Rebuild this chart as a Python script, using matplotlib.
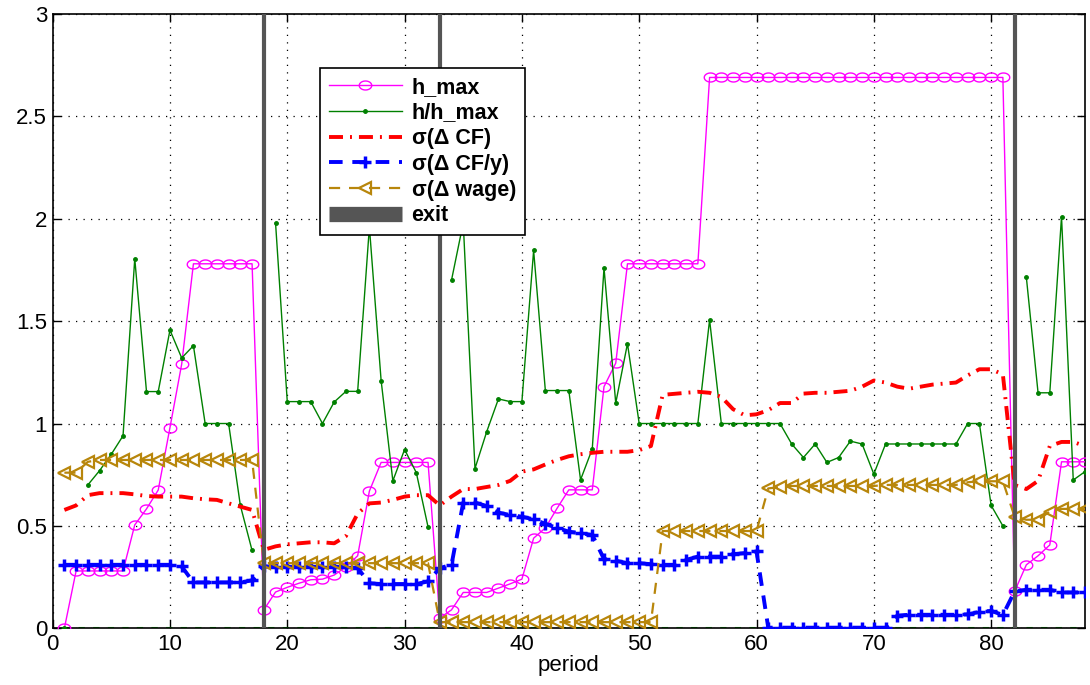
import numpy as np
import matplotlib
matplotlib.use("Agg")
import matplotlib.pyplot as plt
from matplotlib.lines import Line2D
from matplotlib.path import Path
from matplotlib.ticker import FormatStrFormatter

plt.rcParams['font.family'] = ['Liberation Sans', 'DejaVu Sans']

nan = np.nan
period = np.arange(1, 89)

# values, one per period (1..88)
h_max = [0, 0.28, 0.28, 0.28, 0.28, 0.28, 0.505, 0.583, 0.675, 0.98,
         1.29, 1.78, 1.78, 1.78, 1.78, 1.78, 1.78, 0.09, 0.177, 0.20,
         0.22, 0.237, 0.24, 0.26, 0.30, 0.354, 0.67, 0.81, 0.81, 0.81,
         0.81, 0.81, 0.05, 0.09, 0.175, 0.175, 0.175, 0.196, 0.217, 0.24,
         0.44, 0.49, 0.586, 0.676, 0.676, 0.676, 1.18, 1.295, 1.78, 1.78,
         1.78, 1.78, 1.78, 1.78, 1.78, 2.69, 2.69, 2.69, 2.69, 2.69,
         2.69, 2.69, 2.69, 2.69, 2.69, 2.69, 2.69, 2.69, 2.69, 2.69,
         2.69, 2.69, 2.69, 2.69, 2.69, 2.69, 2.69, 2.69, 2.69, 2.69,
         2.69, 0.18, 0.31, 0.354, 0.407, 0.813, 0.813, 0.813]

h_ratio = [0, nan, 0.70, 0.77, 0.85, 0.94, 1.805, 1.156, 1.156, 1.456,
           1.32, 1.38, 1.0, 1.0, 1.0, 0.60, 0.38, nan, 1.98, 1.107,
           1.107, 1.107, 1.0, 1.105, 1.157, 1.157, 1.96, 1.21, 0.72, 0.873,
           0.76, 0.495, nan, 1.70, 1.98, 0.78, 0.96, 1.12, 1.107, 1.107,
           1.845, 1.161, 1.161, 1.161, 0.725, 0.876, 1.76, 1.10, 1.39, 1.0,
           1.0, 1.0, 1.0, 1.0, 1.0, 1.506, 1.0, 1.0, 1.0, 1.0,
           1.0, 1.0, 0.90, 0.834, 0.90, 0.81, 0.834, 0.914, 0.90, 0.753,
           0.90, 0.90, 0.90, 0.90, 0.90, 0.90, 0.90, 1.0, 1.0, 0.60,
           0.50, nan, 1.715, 1.15, 1.15, 2.01, 0.724, 0.765]

sd_cf = [0.578, 0.60, 0.65, 0.66, 0.66, 0.66, 0.654, 0.646, 0.643, 0.643,
         0.643, 0.635, 0.63, 0.627, 0.61, 0.594, 0.578, 0.383, 0.40, 0.41,
         0.415, 0.42, 0.42, 0.415, 0.45, 0.56, 0.61, 0.614, 0.627, 0.643,
         0.65, 0.65, 0.60, 0.643, 0.68, 0.68, 0.69, 0.70, 0.72, 0.765,
         0.776, 0.80, 0.822, 0.84, 0.85, 0.857, 0.862, 0.862, 0.862, 0.87,
         0.89, 1.14, 1.145, 1.15, 1.155, 1.15, 1.13, 1.07, 1.04, 1.045,
         1.065, 1.10, 1.10, 1.146, 1.15, 1.15, 1.155, 1.16, 1.18, 1.21,
         1.20, 1.18, 1.17, 1.18, 1.19, 1.195, 1.20, 1.235, 1.265, 1.265,
         1.24, 0.70, 0.68, 0.72, 0.89, 0.91, 0.91, 0.89]

sd_cfy = [0.31, 0.31, 0.31, 0.31, 0.31, 0.31, 0.31, 0.31, 0.31, 0.31,
          0.302, 0.224, 0.224, 0.224, 0.224, 0.224, 0.234, 0.302, 0.30, 0.30,
          0.30, 0.30, 0.30, 0.30, 0.30, 0.294, 0.22, 0.216, 0.216, 0.216,
          0.216, 0.229, 0.294, 0.31, 0.614, 0.614, 0.597, 0.565, 0.553, 0.545,
          0.532, 0.51, 0.49, 0.472, 0.464, 0.456, 0.338, 0.33, 0.318, 0.318,
          0.313, 0.31, 0.31, 0.334, 0.35, 0.35, 0.35, 0.362, 0.367, 0.375,
          0.003, 0.003, 0.003, 0.003, 0.003, 0.003, 0.003, 0.003, 0.003, 0.003,
          0.003, 0.062, 0.066, 0.066, 0.066, 0.066, 0.066, 0.068, 0.08, 0.085,
          0.065, 0.18, 0.188, 0.188, 0.188, 0.175, 0.175, 0.175]

sd_wage = [0.76, 0.76, 0.813, 0.822, 0.822, 0.822, 0.822, 0.822, 0.822, 0.822,
           0.822, 0.822, 0.822, 0.822, 0.822, 0.822, 0.822, 0.318, 0.318, 0.318,
           0.318, 0.318, 0.318, 0.318, 0.318, 0.318, 0.318, 0.318, 0.318, 0.318,
           0.318, 0.318, 0.03, 0.03, 0.03, 0.03, 0.03, 0.03, 0.03, 0.03,
           0.03, 0.03, 0.03, 0.03, 0.03, 0.03, 0.03, 0.03, 0.03, 0.03,
           0.03, 0.475, 0.475, 0.475, 0.475, 0.475, 0.475, 0.475, 0.475, 0.475,
           0.683, 0.69, 0.695, 0.695, 0.695, 0.695, 0.695, 0.695, 0.695, 0.695,
           0.70, 0.70, 0.70, 0.70, 0.70, 0.70, 0.70, 0.713, 0.718, 0.718,
           0.718, 0.545, 0.53, 0.53, 0.57, 0.583, 0.583, 0.583]

exits = [18, 33, 82]

# the original export is stretched sideways, so circles look like ellipses
t = np.linspace(0, 2 * np.pi, 41)
ellipse = Path(np.column_stack([np.cos(t), 0.72 * np.sin(t)]), closed=True)

fig = plt.figure(figsize=(10.9, 6.85), dpi=100)
ax = fig.add_axes([0.0483, 0.0828, 0.9471, 0.8968])

ax.plot(period, np.zeros(len(period)), color='#00ff00', lw=1.5,
        ls=(0, (3, 4)), zorder=2)

l1, = ax.plot(period, h_max, color='#ff00ff', lw=1.0, marker=ellipse, ms=9,
              mfc='none', mew=1.0, label='h_max', zorder=3)
l2, = ax.plot(period, h_ratio, color='#008000', lw=1.0, marker='.', ms=5,
              label='h/h_max', zorder=3)
l3, = ax.plot(period, sd_cf, color='#ff0000', lw=2.8,
              ls=(0, (3.6, 1.8, 0.5, 1.8)), label='σ(Δ CF)', zorder=3)
l4, = ax.plot(period, sd_cfy, color='#0000ff', lw=2.8, ls=(0, (3.5, 2.5)),
              marker='+', ms=9, mew=2.5, label='σ(Δ CF/y)', zorder=3)
l5, = ax.plot(period, sd_wage, color='#b8860b', lw=1.6, ls=(0, (5, 4)),
              marker='<', ms=8.5, mfc='none', mew=1.6,
              label='σ(Δ wage)', zorder=3)
for e in exits:
    ax.axvline(e, color='#555555', lw=3, zorder=4)
exit_handle = Line2D([], [], color='#555555', lw=11, solid_capstyle='butt')

ax.set_xlim(0, 88)
ax.set_ylim(0, 3)
ax.set_xticks(np.arange(0, 81, 10))
ax.set_yticks(np.arange(0, 3.01, 0.5))
ax.yaxis.set_major_formatter(FormatStrFormatter('%g'))
ax.tick_params(direction='in', length=6, width=1, top=True, right=True,
               labelsize=16, pad=4)
ax.grid(True, ls=(0, (1, 5)), color='black', lw=0.9)
for sp in ax.spines.values():
    sp.set_linewidth(1.2)
ax.set_xlabel('period', fontsize=16, labelpad=0)

leg = ax.legend([l1, l2, l3, l4, l5, exit_handle],
                ['h_max', 'h/h_max', 'σ(Δ CF)', 'σ(Δ CF/y)', 'σ(Δ wage)', 'exit'],
                loc='upper left', bbox_to_anchor=(0.259, 0.912),
                borderaxespad=0, fancybox=False, framealpha=1,
                edgecolor='black', handlelength=3.4, handletextpad=0.45,
                labelspacing=0.22, borderpad=0.4,
                prop={'weight': 'bold', 'size': 15.5})
leg.get_frame().set_linewidth(1.2)
leg.set_zorder(10)

fig.savefig('out.png', dpi=100)
